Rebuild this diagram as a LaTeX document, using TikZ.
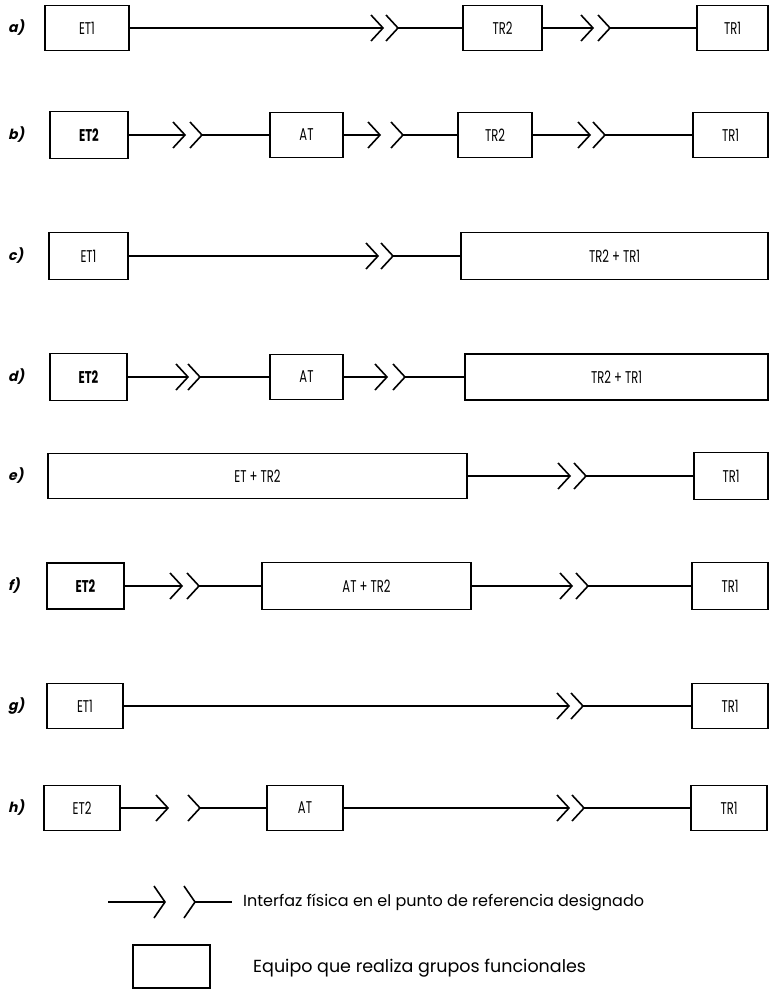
\documentclass[tikz,border=0pt]{standalone}
\usepackage{fontspec}
\setmainfont{Poppins}
\newfontfamily\labfont[FakeSlant=0.22]{Poppins}
\usepackage{graphicx}
\newcommand\cnd[1]{\scalebox{0.68}[1]{#1}}
\newcommand\mybox[6]{\node[box, minimum width={#3-#2}, minimum height={#5}] (#1) at ({(#2+#3)/2},#4) {\cnd{#6}};}
\newcommand\chevs[4]{%
  \coordinate (#1a) at (#2,#4);
  \coordinate (#1b) at (#3,#4);
  \draw[chev] ([shift={(-12,-13)}]#1a) -- (#1a) -- ([shift={(-12,13)}]#1a);
  \draw[chev] ([shift={(-12,-13)}]#1b) -- (#1b) -- ([shift={(-12,13)}]#1b);}
\tikzset{
  box/.style={draw, line width=1.8pt, inner sep=0pt, font=\fontsize{17}{17}\selectfont},
  wire/.style={line width=1.3pt},
  chev/.style={line width=1.6pt, line join=miter},
  rowlab/.style={font=\labfont\bfseries\fontsize{14}{14}\selectfont, anchor=west, inner sep=0pt},
  legtext/.style={anchor=west, inner sep=0pt},
}
\begin{document}
\begin{tikzpicture}[x=1pt,y=-1pt]
\fill[white] (0,0) rectangle (770,993);
\useasboundingbox (0,0) rectangle (770,993);
% row labels
\node[rowlab] (la) at (8,28) {a)};
\node[rowlab] (lb) at (8,135) {b)};
\node[rowlab] (lc) at (8,256) {c)};
\node[rowlab] (ld) at (8,377) {d)};
\node[rowlab] (le) at (8,476) {e)};
\node[rowlab] (lf) at (8,586) {f)};
\node[rowlab] (lg) at (8,706) {g)};
\node[rowlab] (lh) at (8,808) {h)};
% a
\mybox{a1}{45}{129}{28}{45}{ET1}
\mybox{a2}{463}{542}{28}{45}{TR2}
\mybox{a3}{697}{768}{28}{45}{TR1}
\chevs{ia1}{383}{398}{28}
\chevs{ia2}{593}{610}{28}
\draw[wire] (a1.east) -- (ia1a); \draw[wire] (ia1b) -- (a2.west);
\draw[wire] (a2.east) -- (ia2a); \draw[wire] (ia2b) -- (a3.west);
% b
\mybox{b1}{50}{128}{135}{47}{\bfseries ET2}
\mybox{b2}{270}{343}{135}{45}{AT}
\mybox{b3}{458}{532}{135}{45}{TR2}
\mybox{b4}{693}{768}{135}{45}{TR1}
\chevs{ib1}{185}{202}{135}
\chevs{ib2}{380}{403}{135}
\chevs{ib3}{590}{605}{135}
\draw[wire] (b1.east) -- (ib1a); \draw[wire] (ib1b) -- (b2.west);
\draw[wire] (b2.east) -- (ib2a); \draw[wire] (ib2b) -- (b3.west);
\draw[wire] (b3.east) -- (ib3a); \draw[wire] (ib3b) -- (b4.west);
% c
\mybox{c1}{49}{128}{256}{47}{ET1}
\mybox{c2}{461}{768}{256}{47}{TR2 + TR1}
\chevs{ic1}{378}{393}{256}
\draw[wire] (c1.east) -- (ic1a); \draw[wire] (ic1b) -- (c2.west);
% d
\mybox{d1}{50}{127}{377}{47}{\bfseries ET2}
\mybox{d2}{270}{343}{377}{45}{AT}
\mybox{d3}{465}{768}{377}{46}{TR2 + TR1}
\chevs{id1}{188}{200}{377}
\chevs{id2}{387}{405}{377}
\draw[wire] (d1.east) -- (id1a); \draw[wire] (id1b) -- (d2.west);
\draw[wire] (d2.east) -- (id2a); \draw[wire] (id2b) -- (d3.west);
% e
\mybox{e1}{48}{467}{476}{45}{ET + TR2}
\mybox{e2}{694}{768}{476}{47}{TR1}
\chevs{ie1}{570}{586}{476}
\draw[wire] (e1.east) -- (ie1a); \draw[wire] (ie1b) -- (e2.west);
% f
\mybox{f1}{47}{124}{586}{46}{\bfseries ET2}
\mybox{f2}{262}{471}{586}{47}{AT + TR2}
\mybox{f3}{692}{768}{586}{47}{TR1}
\chevs{if1}{182}{199}{586}
\chevs{if2}{572}{588}{586}
\draw[wire] (f1.east) -- (if1a); \draw[wire] (if1b) -- (f2.west);
\draw[wire] (f2.east) -- (if2a); \draw[wire] (if2b) -- (f3.west);
% g
\mybox{g1}{47}{123}{706}{45}{ET1}
\mybox{g2}{692}{768}{706}{45}{TR1}
\chevs{ig1}{569}{583}{706}
\draw[wire] (g1.east) -- (ig1a); \draw[wire] (ig1b) -- (g2.west);
% h
\mybox{h1}{44}{120}{808}{45}{ET2}
\mybox{h2}{267}{343}{808}{45}{AT}
\mybox{h3}{691}{767}{808}{45}{TR1}
\chevs{ih1}{168}{200}{808}
\chevs{ih2}{569}{584}{808}
\draw[wire] (h1.east) -- (ih1a); \draw[wire] (ih1b) -- (h2.west);
\draw[wire] (h2.east) -- (ih2a); \draw[wire] (ih2b) -- (h3.west);
% legend
\coordinate (ls) at (108,902);
\coordinate (le2) at (232,902);
\coordinate (lca) at (165,902);
\coordinate (lcb) at (195,902);
\draw[chev] ([shift={(-11,-16)}]lca) -- (lca) -- ([shift={(-11,16)}]lca);
\draw[chev] ([shift={(-11,-16)}]lcb) -- (lcb) -- ([shift={(-11,16)}]lcb);
\draw[wire] (ls) -- (lca); \draw[wire] (lcb) -- (le2);
\node[legtext, font=\fontsize{16}{16}\selectfont] (lt1) at (243,902) {Interfaz física en el punto de referencia designado};
\node[draw, line width=1.8pt, minimum width=77, minimum height=43, inner sep=0pt] (lbox) at (171.5,966.5) {};
\node[legtext, font=\fontsize{17.5}{17.5}\selectfont] (lt2) at (253,968) {Equipo que realiza grupos funcionales};
\end{tikzpicture}
\end{document}
